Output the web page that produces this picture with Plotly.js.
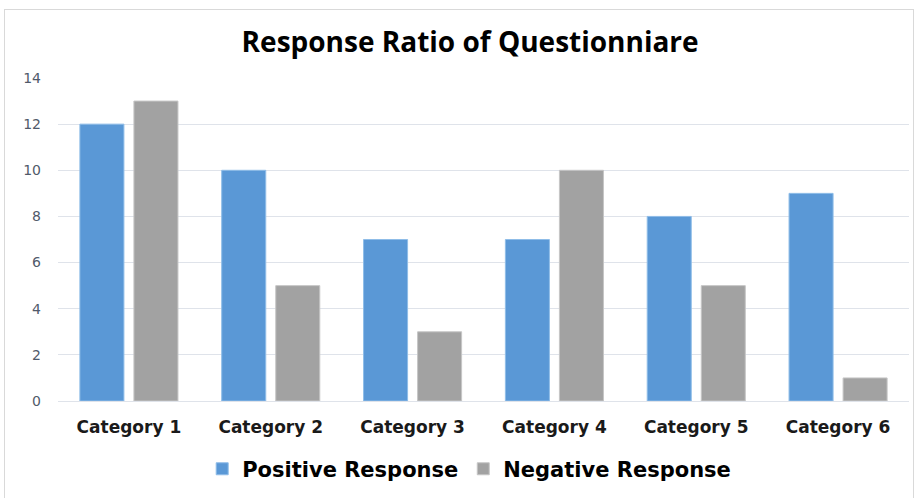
<!DOCTYPE html>
<html>
<head>
<meta charset="utf-8">
<script src="https://cdn.plot.ly/plotly-3.0.1.min.js"></script>
<style>
  html, body { margin: 0; padding: 0; background: #fff; }
  #wrap { position: relative; width: 920px; height: 498px; }
  #chart { position: absolute; left: 0; top: 0; width: 920px; height: 498px; }
  #frame { position: absolute; left: 4px; top: 9px; width: 910px; height: 490px; border: 1px solid #d9d9d9; box-sizing: border-box; pointer-events: none; }
</style>
</head>
<body>
<div id="wrap">
  <div id="chart"></div>
  <div id="frame"></div>
</div>
<script>
const categories = ["Category 1", "Category 2", "Category 3", "Category 4", "Category 5", "Category 6"];
const positiveResponse = [12, 10, 7, 7, 8, 9];
const negativeResponse = [13, 5, 3, 10, 5, 1];
const yTicks = [0, 2, 4, 6, 8, 10, 12, 14];

const traces = [
  {
    type: "bar", name: "Positive Response", x: categories, y: positiveResponse,
    marker: { color: "#5a98d6", line: { color: "#8fbde8", width: 1 } },
    hoverinfo: "skip"
  },
  {
    type: "bar", name: "Negative Response", x: categories, y: negativeResponse,
    marker: { color: "#a2a2a2", line: { color: "#c6c6c6", width: 1 } },
    hoverinfo: "skip"
  }
];

const layout = {
  width: 920, height: 498,
  paper_bgcolor: "rgba(0,0,0,0)", plot_bgcolor: "#fff",
  margin: { l: 58, r: 11, t: 78, b: 97 },
  barmode: "group", bargap: 0.238, bargroupgap: 0.185,
  title: {
    text: "Response Ratio of Questionniare",
    font: { family: "Open Sans, sans-serif", size: 28, color: "#000", weight: 700 },
    x: 0.511, xanchor: "center", y: 0.915, yanchor: "middle"
  },
  xaxis: {
    showgrid: false, showline: false, zeroline: false, ticks: "", automargin: false,
    tickfont: { family: "DejaVu Sans, sans-serif", size: 17, color: "#1a1a1a", weight: 700 },
    ticklabelstandoff: 14
  },
  yaxis: {
    range: [0, 14], tickvals: yTicks, ticktext: yTicks.map(String), automargin: false,
    showgrid: true, gridcolor: "#dfe3ea", gridwidth: 1,
    zeroline: true, zerolinecolor: "#dfe3ea", zerolinewidth: 1,
    showline: false, ticks: "",
    tickfont: { family: "DejaVu Sans, sans-serif", size: 14, color: "#515a6a" },
    ticklabelstandoff: 16
  },
  legend: {
    orientation: "h", xref: "container", yref: "container",
    x: 0.51, xanchor: "center", y: 0.058, yanchor: "middle",
    font: { family: "DejaVu Sans, sans-serif", size: 21, color: "#000", weight: 700 },
    itemwidth: 30, traceorder: "normal"
  },
  showlegend: true
};

Plotly.newPlot("chart", traces, layout, { staticPlot: true, displayModeBar: false });
</script>
</body>
</html>
